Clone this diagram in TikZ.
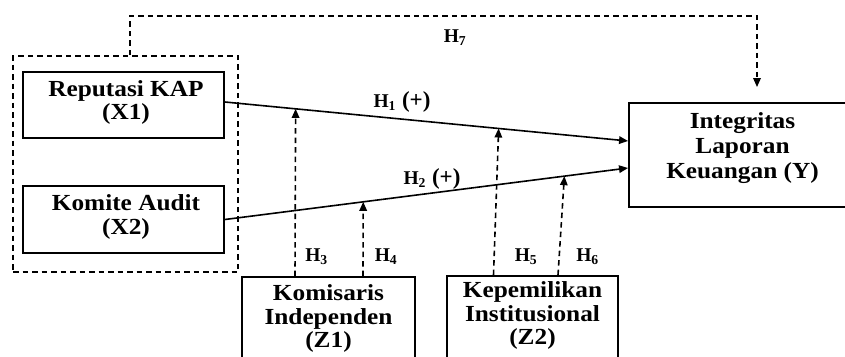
\documentclass[tikz,border=0pt]{standalone}
\usepackage{fontspec}
\usepackage{graphicx}
\setmainfont{Liberation Serif}
\usetikzlibrary{arrows.meta}
\tikzset{
  box/.style={draw, line width=1.9pt, rectangle, inner sep=0pt},
  grp/.style={draw, line width=1.6pt, dash pattern=on 5.5pt off 4pt, rectangle, inner sep=0pt},
  txt/.style={font=\fontsize{23}{23.5}\selectfont\bfseries, inner sep=0pt},
  hlab/.style={font=\fontsize{19.5}{24}\selectfont\bfseries, inner sep=0pt, anchor=base},
  solidarr/.style={line width=1.6pt, -{Triangle[length=9pt,width=7.5pt]}},
  dasharr/.style={line width=1.6pt, dash pattern=on 5.5pt off 4pt, -{Triangle[length=9pt,width=7.5pt]}},
}
\newcommand{\boxtext}[1]{\scalebox{1.1}[1]{\begin{tabular}{@{}c@{}}#1\end{tabular}}}
\newcommand{\plusmark}{{\fontsize{23}{24}\selectfont(+)}}
\begin{document}
\begin{tikzpicture}[x=1pt,y=-1pt]
\useasboundingbox (0,0) rectangle (845,356);
\clip (0,0) rectangle (845,356);

% boxes
\node[box, minimum width=201pt, minimum height=66pt] (x1) at (123.5,105) {};
\node[box, minimum width=201pt, minimum height=67pt] (x2) at (123.5,219.5) {};
\node[box, minimum width=231pt, minimum height=104pt] (y) at (744.5,155) {};
\node[box, minimum width=173pt, minimum height=123pt] (z1) at (328.5,338.5) {};
\node[box, minimum width=171pt, minimum height=124pt] (z2) at (532.5,338) {};
\node[grp, minimum width=225pt, minimum height=216pt] (g) at (125.5,164) {};

% texts
\node[txt] (x1t) at (126,103.5) {\boxtext{Reputasi KAP\\(X1)}};
\node[txt] (x2t) at (126,218) {\boxtext{Komite Audit\\(X2)}};
\node[txt] (yt) at (742.5,148.5) {\boxtext{Integritas\\[1.5pt]Laporan\\[1.5pt]Keuangan (Y)}};
\node[txt] (z1t) at (328.5,319.5) {\boxtext{Komisaris\\Independen\\(Z1)}};
\node[txt] (z2t) at (532.5,316.5) {\boxtext{Kepemilikan\\Institusional\\(Z2)}};

% main arrows
\draw[solidarr] ([yshift=3pt]x1.east) --
  node[pos=0.1753, coordinate] (p3) {}
  node[pos=0.679, coordinate] (p5) {}
  ([yshift=14pt]y.west);
\draw[solidarr] (x2.east) --
  node[pos=0.343, coordinate] (p4) {}
  node[pos=0.842, coordinate] (p6) {}
  ([yshift=-13pt]y.west);

% moderating arrows
\draw[dasharr] ([xshift=-33.5pt]z1.north) -- (p3);
\draw[dasharr] ([xshift=34.5pt]z1.north) -- (p4);
\draw[dasharr] ([xshift=-39pt]z2.north) -- (p5);
\draw[dasharr] ([xshift=25.5pt]z2.north) -- (p6);

% H7
\coordinate (h7c) at (757,16);
\draw[dasharr] ([xshift=4.5pt]g.north) |- (h7c) -- ([xshift=12.5pt,yshift=15pt]y.north);

% labels
\node[hlab] (h1) at (402,107) {H\textsubscript{1}\hspace{6pt}\plusmark};
\node[hlab] (h2) at (432,184) {H\textsubscript{2}\hspace{6pt}\plusmark};
\node[hlab] (h7) at (455,42) {H\textsubscript{7}};
\node[hlab] (h3) at (316.5,261) {H\textsubscript{3}};
\node[hlab] (h4) at (386,261) {H\textsubscript{4}};
\node[hlab] (h5) at (526,261) {H\textsubscript{5}};
\node[hlab] (h6) at (587.5,261) {H\textsubscript{6}};
\end{tikzpicture}
\end{document}
